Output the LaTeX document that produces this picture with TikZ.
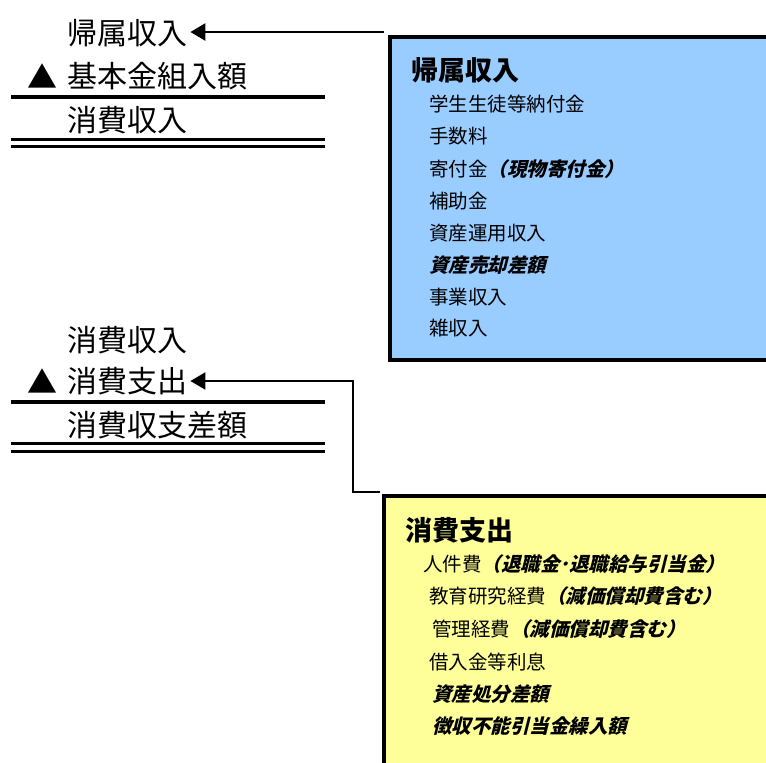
\documentclass[tikz,border=0pt]{standalone}
\usepackage{fontspec}
\setmainfont{Noto Sans CJK JP}
\newfontfamily\bifont{Noto Sans CJK JP}[UprightFeatures={FakeSlant=0.25},BoldFeatures={FakeSlant=0.25}]
\usetikzlibrary{arrows.meta}
\definecolor{boxblue}{HTML}{99CCFF}
\definecolor{boxyellow}{HTML}{FFFF99}
\tikzset{
  big/.style={anchor=west,inner sep=0pt,font=\fontsize{30}{33}\selectfont},
  ttl/.style={anchor=west,inner sep=0pt,font=\fontsize{27}{30}\selectfont\bfseries},
  itm/.style={anchor=west,inner sep=0pt,font=\fontsize{19.5}{22}\selectfont},
  rule/.style={line width=3.5pt},
  dbl/.style={line width=3pt},
  panel/.style={draw=black,line width=3.5pt,anchor=north west,inner sep=0pt},
  arr/.style={-{Triangle[length=15pt,width=17pt]}},
}
\newcommand{\bi}[1]{{\bifont\bfseries #1}}
\begin{document}
\begin{tikzpicture}[x=1pt,y=-1pt]
\useasboundingbox (0,0) rectangle (766,763);
\clip (0,0) rectangle (766,763);
% boxes
\node[panel,fill=boxblue,minimum width=420pt,minimum height=323pt] (blue) at (388,35) {};
\node[panel,fill=boxyellow,minimum width=420pt,minimum height=300pt] (yellow) at (382,494) {};
% top-left statement
\node[big] (t1) at (67,33) {帰属収入};
\node[big] (tri1) at (27,76) {▲};
\node[big] (t2) at (67,76) {基本金組入額};
\node[big] (t3) at (67,120) {消費収入};
\coordinate (r1a) at (11,97); \coordinate (r1b) at (325,97);
\coordinate (d1a) at (11,139); \coordinate (d1b) at (325,139);
\coordinate (d2a) at (11,146); \coordinate (d2b) at (325,146);
\draw[rule] (r1a) -- (r1b);
\draw[dbl] (d1a) -- (d1b);
\draw[dbl] (d2a) -- (d2b);
% second statement
\node[big] (s1) at (67,340) {消費収入};
\node[big] (tri2) at (27,381) {▲};
\node[big] (s2) at (67,381) {消費支出};
\node[big] (s3) at (67,425) {消費収支差額};
\coordinate (r2a) at (11,402); \coordinate (r2b) at (325,402);
\coordinate (d3a) at (11,443); \coordinate (d3b) at (325,443);
\coordinate (d4a) at (11,451); \coordinate (d4b) at (325,451);
\draw[rule] (r2a) -- (r2b);
\draw[dbl] (d3a) -- (d3b);
\draw[dbl] (d4a) -- (d4b);
% blue box content
\node[ttl] (bt) at (411,70) {帰属収入};
\node[itm] (b1) at (429,104) {学生生徒等納付金};
\node[itm] (b2) at (429,136) {手数料};
\node[itm] (b3) at (429,169) {寄付金\bi{（現物寄付金）}};
\node[itm] (b4) at (429,201) {補助金};
\node[itm] (b5) at (429,233) {資産運用収入};
\node[itm] (b6) at (429,265) {\bi{資産売却差額}};
\node[itm] (b7) at (429,297) {事業収入};
\node[itm] (b8) at (429,328) {雑収入};
% yellow box content
\node[ttl] (yt) at (405,530) {消費支出};
\node[itm] (y1) at (423,564) {人件費\bi{（退職金･退職給与引当金）}};
\node[itm] (y2) at (429,596) {教育研究経費\bi{（減価償却費含む）}};
\node[itm] (y3) at (432,629) {管理経費\bi{（減価償却費含む）}};
\node[itm] (y4) at (429,662) {借入金等利息};
\node[itm] (y5) at (432,694) {\bi{資産処分差額}};
\node[itm] (y6) at (432,726) {\bi{徴収不能引当金繰入額}};
% connectors
\coordinate (c1) at ([xshift=-4pt,yshift=3pt]blue.north west);
\draw[arr,line width=2.5pt] (c1) -- ([xshift=3pt]c1 -| t1.east);
\coordinate (c2) at ([xshift=-2pt,yshift=2pt]yellow.north west);
\coordinate (c3) at (353,492);
\coordinate (c4) at (353,381);
\draw[arr,line width=2pt] (c2) -- (c3) -- (c4) -- ([xshift=3pt]c4 -| s2.east);
\end{tikzpicture}
\end{document}
